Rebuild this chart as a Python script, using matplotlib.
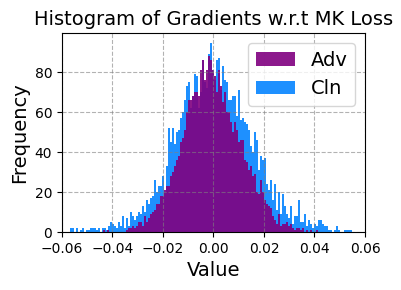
import numpy as np
import matplotlib.pyplot as plt

# bin layout (both histograms share the same bin width)
bin_width = 0.00079
cln_start = -0.0566
adv_start = -0.0447

# counts per bin
cln_counts = [2, 2, 0, 2, 0, 1, 2, 0, 1, 1, 2, 2, 2, 1, 2, 0, 2, 2, 1, 3,
              5, 4, 3, 2, 5, 3, 8, 2, 7, 3, 10, 8, 6, 8, 10, 9, 13, 10, 16, 14,
              17, 18, 26, 20, 23, 23, 28, 20, 33, 52, 45, 52, 44, 50, 51, 57, 60, 66, 73, 75,
              62, 68, 79, 78, 62, 70, 86, 75, 72, 89, 95, 81, 76, 86, 87, 71, 83, 76, 75, 66,
              66, 68, 68, 58, 71, 56, 57, 55, 54, 51, 43, 40, 50, 46, 31, 38, 36, 37, 24, 21,
              26, 16, 24, 11, 20, 9, 19, 13, 9, 7, 13, 4, 8, 8, 16, 5, 5, 9, 3, 6,
              4, 2, 4, 3, 6, 6, 4, 3, 3, 1, 1, 0, 1, 3, 1, 0, 0, 1, 1, 1,
              1]
adv_counts = [0, 1, 0, 1, 0, 0, 0, 0, 0, 0, 0, 0, 0, 1, 2, 2, 3, 2, 3, 5,
              5, 3, 8, 5, 7, 9, 10, 11, 14, 14, 18, 18, 21, 23, 23, 28, 30, 33, 36, 38,
              45, 47, 51, 60, 66, 66, 68, 70, 70, 68, 81, 86, 76, 81, 88, 86, 81, 78, 70, 81,
              73, 65, 70, 60, 60, 55, 50, 55, 51, 45, 46, 46, 36, 35, 31, 33, 28, 29, 20, 19,
              26, 20, 16, 14, 13, 12, 8, 6, 4, 9, 3, 4, 4, 5, 3, 4, 2, 1, 2, 2,
              1, 2, 0, 1, 0, 1, 0, 0, 1]

cln_edges = cln_start + bin_width * np.arange(len(cln_counts) + 1)
adv_edges = adv_start + bin_width * np.arange(len(adv_counts) + 1)

fig = plt.figure(figsize=(4.02, 2.9), dpi=100)
ax = fig.add_axes([0.154, 0.2, 0.754, 0.686])

h_cln = ax.hist(cln_edges[:-1], bins=cln_edges, weights=cln_counts,
                color='dodgerblue', label='Cln')
h_adv = ax.hist(adv_edges[:-1], bins=adv_edges, weights=adv_counts,
                color='purple', alpha=0.9, label='Adv')

ax.set_xlim(-0.06, 0.06)
ax.set_xticks([-0.06, -0.04, -0.02, 0.0, 0.02, 0.04, 0.06])
ax.set_yticks([0, 20, 40, 60, 80])
ax.grid(True, linestyle='--', color='gray', alpha=0.6)
ax.set_title('Histogram of Gradients w.r.t MK Loss', fontsize=14)
ax.set_xlabel('Value', fontsize=14)
ax.set_ylabel('Frequency', fontsize=14)

handles, labels = ax.get_legend_handles_labels()
ax.legend(handles[::-1], labels[::-1], loc='upper right', fontsize=14)

fig.savefig('out.png', dpi=100)
